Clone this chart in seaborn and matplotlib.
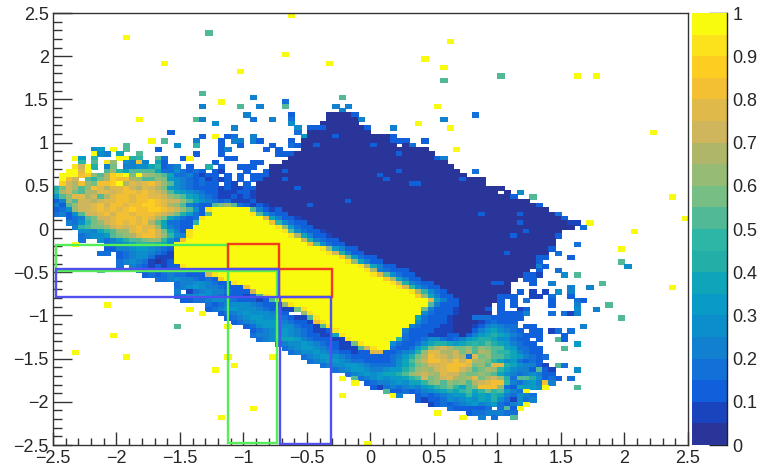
import re
import numpy as np
import matplotlib
matplotlib.use('Agg')
import matplotlib.pyplot as plt
from matplotlib.colors import ListedColormap
from matplotlib.patches import Rectangle
import seaborn as sns

# bins of the 2D histogram, top row first: "start_column:cells", cell letter a..t = colour level 0..19
rows = [
    "37:t", "", "", "", "24:k", "11:t", "62:t", "", "", "36:t",
    "58:t", "17:t 43:t", "61:t", "29:t", "70:k 82:t 85:t", "61:k", "", "", "23:k", "31:e 45:k",
    "26:t 36:d",
    "23:e 29:k 32:e 36:k 44:e 46:e 60:t",
    "45:e",
    "30:e 37:c 43:4a 47:c 66:d",
    "13:t 22:k 23:e 31:d 34:e 37:d 43:5a 48:e 61:e",
    "25:f 37:f 42:6a 57:t",
    "28:e 38:f 40:3c 43:6a 49:c 53:e 62:t",
    "18:c 38:d 40:10a 94:t",
    "23:c 25:t 27:c 28:d 31:e 39:g 40:4a 44:c 45:8a 53:c",
    "15:t 17:k 22:e 26:c 28:e 29:e 31:e 32:c 37:c 39:14a 53:3c 58:c",
    "11:k 19:f 22:j 26:c 29:c 34:c 37:d 38:c 39:2a 41:c 42:8a 50:c 51:3a 55:a 56:d",
    "6:fg 9:t 11:k 16:c 26:c 27:e 33:c 35:c 39:20a 63:t",
    "6:tfe 10:h 13:k 22:c 26:c 35:3c 38:16a 54:c 55:5a",
    "3:tg 6:j 10:tt 12:ij 16:kd 20:c 21:t 27:cc 37:23a 60:ce",
    "4:j 6:k 8:sm 11:fe 13:qe 16:hc 25:c 31:cc 36:26a",
    "3:sot 6:i 8:el 11:eeffhjcde 21:c 24:i 26:c 29:3c 34:29a",
    "2:ttpt 8:kmjhkkkkhddfdcdc 25:cb 30:c 33:c 34:2a 36:c 37:17a 54:c 55:9a 66:d",
    "1:tttqrmknrstltnmlkhddecbc 25:c 27:c 29:c 31:3c 34:17a 51:c 52:13a",
    "1:tqo 5:kjlnrqqnmkkmlgfedcdbcb 27:c 29:c 31:2c 33:3a 36:c 37:15a 52:c 53:11a 64:c 65:3a",
    "1:ronqmlqqrtnpopqomkfedcdcc 27:cb 30:c 32:24a 56:2c 58:10a",
    "0:ilonkmqpnppqonponlgfedcccc 26:bcbb 30:2c 32:6a 38:c 39:32a",
    "0:jnolknnppopqqpqponkhgfedcc 26:bbbc 30:cb 32:38a 71:a 73:f",
    "0:gkmppnoknpqqpqqppomlkhgedc 26:bbcbcb 32:40a 72:c 75:k 97:t",
    "0:cemkoonoppqqpqqrqpoomkhfed 26:cdbbbc 32:14a 46:c 47:28a",
    "0:eckmoopqoqqpqqrrqpnmke 22:dcc 25:klmk 29:dcbcb 34:6a 40:c 41:35a 76:c",
    "0:cdfmoopqpqpqrqqrrqpomkf 23:c 24:s 25:6t 31:kecbc 36:42a",
    "0:decfkoopqoqqpqqqponlig 22:dc 24:k 25:6t 31:skfdcc 37:30a 67:c 68:5a 73:c 74:5a 79:d",
    "2:cdekloopqqqpqpnlhfd 21:cd 23:s 24:9t 33:phecc 38:b 39:41a 80:c 99:t",
    "2:edfjlmopqpqpqnkhd 19:dcc 22:j 23:11t 34:qjfdcc 40:33a 73:c 74:7a 81:bb 84:t",
    "3:ejkllmopopqppmhe 19:dcc 22:13t 35:smgdcc 41:41a 83:d",
    "4:ffehjkmmpqpqolhe 20:c 21:s 22:14t 36:skfdccb 43:31a 74:c 75:5a 91:t",
    "4:deffgklmnpqqomjfe 21:s 22:15t 37:snhecc 43:b 44:28a 72:c 73:6a 79:c",
    "4:d 7:fdegikklmmjfd 20:q 21:18t 39:oiedcc 45:34a",
    "3:t 8:deefhjjjihe 19:21t 40:qkfdcc 46:33a 82:d",
    "8:cce 11:efggfedc 19:23t 42:smgecc 48:30a 78:c 89:t",
    "7:dd 10:cdeffedcb 19:24t 43:soiecc 49:22a 71:c 72:6a 79:d",
    "10:cdeffdbbb 19:26t 45:rlgdcc 51:25a 76:2c 81:c",
    "10:defedbabc 19:27t 46:smhecc 52:24a 76:c 89:k",
    "10:d 12:edcbcbc 19:c 20:s 21:27t 48:snhecc 54:22a 76:e 77:c 90:f",
    "7:k 13:dcdcccccc 22:s 23:26t 49:snedc 54:c 55:c 56:19a 76:c 79:d",
    "14:cdcdeddccc 24:o 25:s 26:24t 50:spkfdcc 57:17a 74:2c 76:b 80:f 82:k",
    "16:ddefeedcdc 26:r 27:25t 52:rnhecc 58:15a 74:2c",
    "19:deeffedcc 28:s 29:24t 53:soiedcc 60:9a 69:2c 71:a 75:c 78:e 86:k",
    "19:defgfeedccc 30:q 31:23t 54:spjfdcc 61:11a 81:e 84:e 97:t",
    "19:e 21:bdefeedcc 30:c 31:o 32:24t 56:snjfdc 62:10a 73:c 75:b 77:b 79:f 81:e",
    "19:deffgfedcccbc 32:k 33:s 34:23t 57:rmhecc 63:7a 70:3c 75:2b 78:d 81:c",
    "20:ccddeffedcccbc 34:k 35:s 36:23t 59:phecc 64:6a 70:c 72:c 74:d 78:c 82:d 83:c",
    "8:t 24:dcdefffedccb 36:m 37:s 38:21t 59:keccc 64:5a 70:c 72:c 78:c 82:e 87:k",
    "21:t 24:cdefgfffedccbb 38:l 39:s 40:18t 58:leccc 63:b 64:4a 68:c 70:c 73:b 74:c 82:f 85:e",
    "23:t 26:cdefgfffedc 39:m 40:s 41:17t 58:fdccc 63:b 64:5a 70:3c 73:c 74:e 78:d 80:d 81:b 82:e",
    "27:cdefggffedcbb 40:k 41:s 42:15t 57:hdccc 62:b 63:3a 66:3d 69:5c 89:k",
    "28:cdefgggfedccb 41:q 42:s 43:14t 57:fdccc 62:b 63:4a 67:bcdccc",
    "19:k 27:t 30:cdfggfffdccb 42:k 43:s 44:12t 56:edcccbb 63:3a 66:bcefedd 74:2c 83:e",
    "31:cdeffgfedcb 42:bc 44:s 45:10t 55:ecccc 60:bbb 63:3a 66:ceghfedc 75:2c 78:b 79:d 81:d",
    "9:t 31:deefggfedccb 43:b 44:h 45:s 46:9t 55:dcccbbbcc 64:a 65:ceghihgedccc 80:c",
    "32:defghhgedc 42:ccbb 46:s 47:7t 54:jdccdffdcdeghiihffdcc 76:c 79:k 80:c",
    "35:deffgfedcc 45:bb 47:l 48:s 49:4t 53:fdccdfhiihghijikihgedcc 82:g",
    "36:defggfedc 45:bbb 48:k 49:o 50:s 51:2t 53:dccdgilnonllmkmlkkhgddcc 80:k",
    "3:t 37:deffgfedcc 47:bcc 50:pp 52:ccdefimppnnolnknmkjjhedcc",
    "11:t 27:t 34:t 39:defggfedccc 50:cccdegilnqponondplmkkihgedcd",
    "40:defggfeddcccc 53:dfhkmoqqpoqoqnmljhfgdcdc",
    "28:t 42:deffggfedddd 54:fhjlmoopqqqplmk 69:pp 71:ihfeecb 79:k 80:d",
    "25:t 44:defggfeefg 54:gikmnmopqqonklnmjhfeeckcb 82:f",
    "46:defgfghhikmnonmpoomllmlkhfedefecc",
    "45:t 47:k 48:defgfggh 56:jkolmopnmnplnomidkkifcdc 81:d",
    "47:t 49:cdeefgfhhjlmkmlmknopqqjedfge 77:q 78:e",
    "50:cbdedefeghjkljhklqqqmdchgg 76:f 77:t 82:k",
    "52:k 53:ccdcdefghihjkhjljkgedc 74:t",
    "45:t 53:te 57:cdcdefggjghgihedfed",
    "57:cbccdfefgfhgifdbfde",
    "59:bcdcdefgefgdcef 74:t",
    "31:t 62:dcccccd 70:dkc 73:t",
    "60:t 65:cddeeedd",
    "26:t 64:t 67:e 69:d 72:k",
    "", "", "", "", "",
    "49:t",
]

level_colors = ['#2a3599', '#1a44bd', '#0f60da', '#1270d8', '#1080cf', '#0b8ecb', '#0a9ac8',
                '#0ea5bb', '#24aea8', '#2db5a5', '#52b996', '#76be84', '#96bb74', '#afb66a',
                '#cfb55c', '#dfba4a', '#f3bf33', '#fdcd22', '#fce21a', '#f9fb0e']

x_ticks = [-2.5, -2, -1.5, -1, -0.5, 0, 0.5, 1, 1.5, 2, 2.5]
x_labels = ['\u22122.5', '\u22122', '\u22121.5', '\u22121', '\u22120.5', '0', '0.5', '1', '1.5', '2', '2.5']
y_labels = ['2.5', '2', '1.5', '1', '0.5', '0', '\u22120.5', '\u22121', '\u22121.5', '\u22122', '\u22122.5']
y_ticks = [2.5, 2, 1.5, 1, 0.5, 0, -0.5, -1, -1.5, -2, -2.5]
z_ticks = [0, 0.1, 0.2, 0.3, 0.4, 0.5, 0.6, 0.7, 0.8, 0.9, 1]
z_labels = ['0', '0.1', '0.2', '0.3', '0.4', '0.5', '0.6', '0.7', '0.8', '0.9', '1']

# boxes drawn over the histogram: x0, x1, y0, y1
green_boxes = [(-2.48, -1.12, -0.185, -0.486), (-1.12, -0.736, -0.486, -2.477)]
red_boxes = [(-1.12, -0.72, -0.174, -0.463), (-0.72, -0.303, -0.463, -0.787)]
blue_boxes = [(-2.48, -0.72, -0.463, -0.787), (-0.713, -0.311, -0.787, -2.49)]

# turn the row strings into the grid
grid = np.full((100, 100), np.nan)
for r, row in enumerate(rows):
    for part in row.split():
        start, cells = part.split(':')
        c = int(start)
        for count, letter in re.findall(r'(\d*)([a-t])', cells):
            for _ in range(int(count or 1)):
                grid[r, c] = (ord(letter) - ord('a') + 0.5) / 20
                c += 1


def to_col(x):
    return (x + 2.5) / 0.05


def to_row(y):
    return (2.5 - y) / 0.05


sns.set_style('white')
plt.rcParams['font.family'] = ['Liberation Sans', 'DejaVu Sans']

fig = plt.figure(figsize=(7.63, 4.66), dpi=100)
ax = fig.add_axes([53 / 763, 1 - 445 / 466, 635 / 763, 432 / 466])
cax = fig.add_axes([692 / 763, 1 - 445 / 466, 35 / 763, 432 / 466])

sns.heatmap(grid, ax=ax, cbar_ax=cax, cmap=ListedColormap(level_colors), vmin=0, vmax=1,
            xticklabels=False, yticklabels=False, rasterized=True)
# the reference cells are a little soft, so let them bleed into each other
ax.collections[0].set_edgecolor('face')
ax.collections[0].set_linewidth(0.6)

ax.set_xticks([to_col(v) for v in x_ticks])
ax.set_xticklabels(x_labels, fontsize=13)
ax.set_yticks([to_row(v) for v in y_ticks])
ax.set_yticklabels(y_labels, fontsize=13)
ax.set_xticks([to_col(v) for v in np.arange(-2.5, 2.51, 0.1)], minor=True)
ax.set_yticks([to_row(v) for v in np.arange(-2.5, 2.51, 0.1)], minor=True)
ax.tick_params(axis='x', which='major', direction='in', length=9.4, width=1, color='#333333', pad=3.5)
ax.tick_params(axis='x', which='minor', direction='in', length=4.7, width=1, color='#333333')
ax.tick_params(axis='y', which='major', direction='in', length=13.7, width=1, color='#333333', pad=3)
ax.tick_params(axis='y', which='minor', direction='in', length=6.8, width=1, color='#333333')
ax.tick_params(top=False, right=False, which='both', bottom=True, left=True)
for spine in ax.spines.values():
    spine.set_visible(True)
    spine.set_color('#333333')
    spine.set_linewidth(1)

for boxes, color in [(green_boxes, '#55ee55'), (red_boxes, '#f23c1e'), (blue_boxes, '#5050ee')]:
    for x0, x1, y0, y1 in boxes:
        ax.add_patch(Rectangle((to_col(x0), to_row(y0)), to_col(x1) - to_col(x0), to_row(y1) - to_row(y0),
                               fill=False, edgecolor=color, linewidth=1.7, zorder=5))

cax.yaxis.set_ticks_position('right')
cax.set_yticks(z_ticks)
cax.set_yticklabels(z_labels, fontsize=13)
cax.tick_params(axis='y', direction='in', length=13, width=1, color='#222222', pad=4, right=True)
for spine in cax.spines.values():
    spine.set_visible(False)
cax.spines['right'].set_visible(True)
cax.spines['right'].set_color('#222222')
cax.spines['right'].set_linewidth(1)

fig.savefig('out.png', dpi=100)
